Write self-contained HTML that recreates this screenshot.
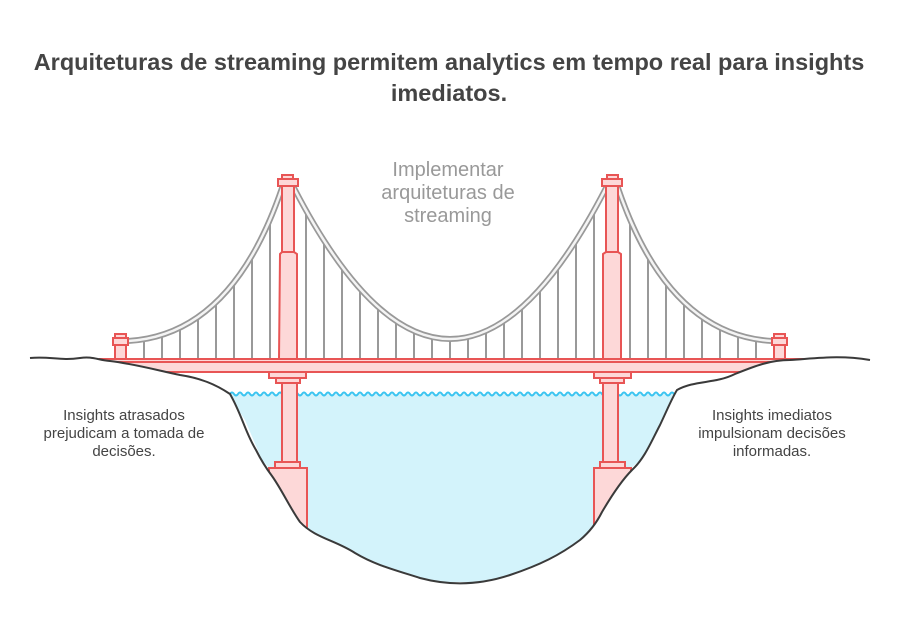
<!DOCTYPE html>
<html><head><meta charset="utf-8"><style>
body{margin:0;background:#fff;width:900px;height:635px;overflow:hidden;font-family:"Liberation Sans",sans-serif}
</style></head><body>
<svg width="900" height="635" viewBox="0 0 900 635" xmlns="http://www.w3.org/2000/svg">
<text x="449" y="70" text-anchor="middle" font-family="Liberation Sans" font-weight="bold" font-size="23.5" fill="#444">Arquiteturas de streaming permitem analytics em tempo real para insights</text>
<text x="449" y="101" text-anchor="middle" font-family="Liberation Sans" font-weight="bold" font-size="23.5" fill="#444">imediatos.</text>
<g font-family="Liberation Sans" font-size="20" fill="#999" text-anchor="middle">
<text x="448" y="176">Implementar</text><text x="448" y="199">arquiteturas de</text><text x="448" y="222">streaming</text></g>
<!-- water -->
<path d="M228,394 L680,394 L660,430 L640,460 L620,478 L600,530 L570,548 L530,570 L480,582 L420,582 L360,560 L330,540 L300,525 L280,480 L262,460 L245,420 Z" fill="#d3f3fb"/>
<path id="wave" d="" fill="none" stroke="#3bc4f0" stroke-width="2"/>
<g id="hangers" stroke="#999" stroke-width="2"></g>
<!-- cables -->
<g fill="none" stroke-linecap="round">
<path d="M128,341 Q232,335 282,188 M294,188 Q450,490 606,188 M618,188 Q668,335 772,341" stroke="#999" stroke-width="6"/>
<path d="M128,341 Q232,335 282,188 M294,188 Q450,490 606,188 M618,188 Q668,335 772,341" stroke="#f4f4f4" stroke-width="2.5"/>
</g>
<g fill="#fdd8d8" stroke="#e85555" stroke-width="2">
<rect x="115" y="334" width="11" height="4"/><rect x="113" y="338" width="15" height="7"/><rect x="115" y="345" width="11" height="14"/>
<rect x="774" y="334" width="11" height="4"/><rect x="772" y="338" width="15" height="7"/><rect x="774" y="345" width="11" height="14"/>
<rect x="282" y="175" width="11" height="4"/><rect x="278" y="179" width="20" height="7"/><rect x="282" y="186" width="12" height="66"/><path d="M280,254 L282,252 L294,252 L297,254 L297,359 L279,359 Z"/>
<rect x="282" y="378" width="15" height="84"/><rect x="275" y="462" width="25" height="6"/><rect x="269" y="468" width="38" height="60"/>
<rect x="607" y="175" width="11" height="4"/><rect x="602" y="179" width="20" height="7"/><rect x="606" y="186" width="12" height="66"/><path d="M603,254 L606,252 L618,252 L621,254 L621,359 L603,359 Z"/>
<rect x="603" y="378" width="15" height="84"/><rect x="600" y="462" width="25" height="6"/><rect x="594" y="468" width="37" height="60"/>
<rect x="100" y="359" width="710" height="3"/>
<rect x="100" y="362" width="710" height="10"/>
<rect x="269" y="372" width="37" height="6"/><rect x="276" y="378" width="24" height="5"/>
<rect x="594" y="372" width="37" height="6"/><rect x="600" y="378" width="24" height="5"/>
</g>
<!-- land (white fill covers deck ends and tower bases) -->
<path d="M0,635 L0,358 L30,358 C50,356 60,361 80,358 C92,356 98,360 110,361 C135,364 160,371 180,375 C200,378 215,384 230,394 C242,415 245,432 256,450 C262,462 266,468 272,476 C282,490 290,508 300,522 C315,538 335,540 355,553 C375,565 395,570 420,578 C450,586 480,585 510,575 C540,565 560,555 580,540 C592,530 598,520 602,512 C612,495 622,480 632,470 C645,458 652,440 660,425 C668,408 672,398 677,390 C695,380 715,384 735,374 C755,366 770,360 790,360 C820,358 840,355 870,360 L900,360 L900,635 Z" fill="#fff" stroke="none"/>
<path d="M30,358 C50,356 60,361 80,358 C92,356 98,360 110,361 C135,364 160,371 180,375 C200,378 215,384 230,394 C242,415 245,432 256,450 C262,462 266,468 272,476 C282,490 290,508 300,522 C315,538 335,540 355,553 C375,565 395,570 420,578 C450,586 480,585 510,575 C540,565 560,555 580,540 C592,530 598,520 602,512 C612,495 622,480 632,470 C645,458 652,440 660,425 C668,408 672,398 677,390 C695,380 715,384 735,374 C755,366 770,360 790,360 C820,358 840,355 870,360" fill="none" stroke="#3a3a3a" stroke-width="2"/>
<g font-family="Liberation Sans" font-size="15" fill="#444" text-anchor="middle">
<text x="124" y="420">Insights atrasados</text><text x="124" y="438">prejudicam a tomada de</text><text x="124" y="456">decisões.</text>
<text x="772" y="420">Insights imediatos</text><text x="772" y="438">impulsionam decisões</text><text x="772" y="456">informadas.</text></g>
</svg>
<script>
var ns="http://www.w3.org/2000/svg",g=document.getElementById('hangers');
function ln(x,y){var l=document.createElementNS(ns,'line');l.setAttribute('x1',x);l.setAttribute('x2',x);l.setAttribute('y1',y);l.setAttribute('y2',359);g.appendChild(l);}
function q(p0,p1,p2,t){return (1-t)*(1-t)*p0+2*t*(1-t)*p1+t*t*p2;}
function yAt(P,x){var lo=0,hi=1;for(var i=0;i<40;i++){var m=(lo+hi)/2;var xm=q(P[0],P[2],P[4],m);if((xm<x)==(P[0]<P[4]))lo=m;else hi=m;}return q(P[1],P[3],P[5],lo);}
var L=[128,341,232,335,282,188],M=[294,188,450,490,606,188],R=[772,341,668,335,618,188];
for(var x=144;x<280;x+=18)ln(x,yAt(L,x));
for(var x=306;x<600;x+=18)ln(x,yAt(M,x));
for(var x=756;x>620;x-=18)ln(x,yAt(R,x));
var d="M230,394";for(var x=230;x<676;x+=8){d+=" q2,-3 4,0 q2,3 4,0";}
document.getElementById('wave').setAttribute('d',d);
</script>
</body></html>
